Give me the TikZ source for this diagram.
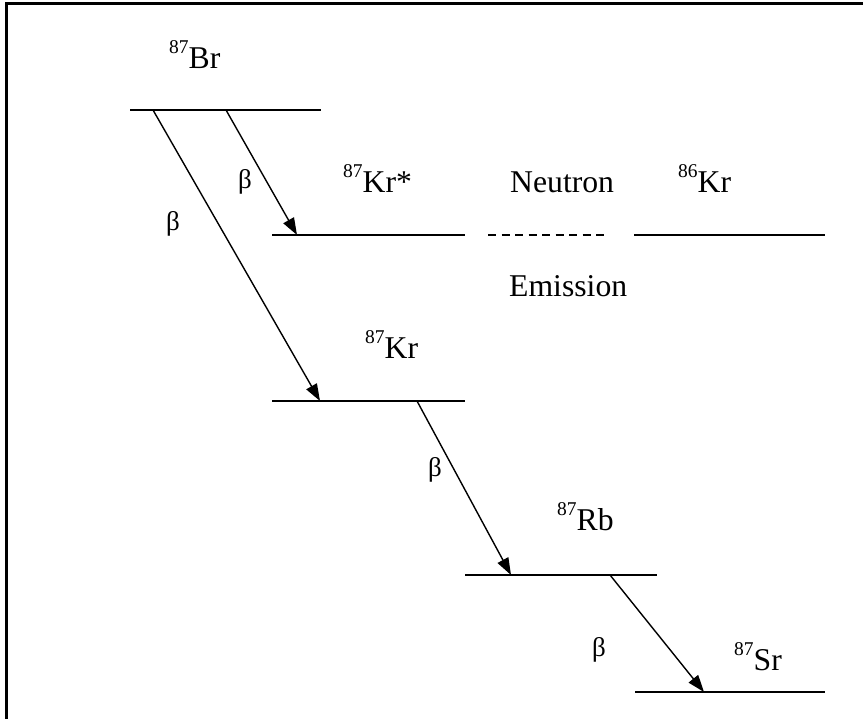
\documentclass[tikz,border=0pt]{standalone}
\usepackage{fontspec}
\setmainfont{Liberation Serif}
\usetikzlibrary{arrows.meta}
\newcommand{\isotope}[2]{\raisebox{15pt}{\fontsize{19.5}{20}\selectfont #1}#2}
\begin{document}
\begin{tikzpicture}[x=1pt,y=-1pt,
  level/.style={line width=1.8pt},
  decay/.style={line width=1.4pt,-{Triangle[length=17pt,width=12pt]}},
  lbl/.style={font=\fontsize{31.7}{36}\selectfont,inner sep=0pt,anchor=base west},
  betalbl/.style={font=\fontsize{27}{30}\selectfont,inner sep=0pt,anchor=center}]
\useasboundingbox (0,0) rectangle (863,719);
% frame (top and left)
\coordinate (fbl) at (6.5,719);
\coordinate (ftl) at (6.5,3.5);
\coordinate (ftr) at (863,3.5);
\draw[line width=2.2pt] (fbl) -- (ftl) -- (ftr);
% levels
\coordinate (brL) at (130,110); \coordinate (brR) at (321,110);
\coordinate (krsL) at (272,235); \coordinate (krsR) at (465,235);
\coordinate (dL) at (488,235); \coordinate (dR) at (608,235);
\coordinate (kr86L) at (634,235); \coordinate (kr86R) at (825,235);
\coordinate (krL) at (272,401); \coordinate (krR) at (465,401);
\coordinate (rbL) at (465,575); \coordinate (rbR) at (657,575);
\coordinate (srL) at (635,692); \coordinate (srR) at (825,692);
\draw[level] (brL) -- (brR);
\draw[level] (krsL) -- (krsR);
\draw[line width=1.4pt,dash pattern=on 8pt off 5.5pt] (dL) -- (dR);
\draw[level] (kr86L) -- (kr86R);
\draw[level] (krL) -- (krR);
\draw[level] (rbL) -- (rbR);
\draw[level] (srL) -- (srR);
% arrow endpoints
\coordinate (a1s) at (226,110); \coordinate (a1e) at (297,235);
\coordinate (a2s) at (153,110); \coordinate (a2e) at (320,401);
\coordinate (a3s) at (417,401); \coordinate (a3e) at (511,575);
\coordinate (a4s) at (610,575); \coordinate (a4e) at (704,692);
\draw[decay] (a1s) -- (a1e);
\draw[decay] (a2s) -- (a2e);
\draw[decay] (a3s) -- (a3e);
\draw[decay] (a4s) -- (a4e);
% labels
\node[lbl] (tbr) at (169,69) {\isotope{87}{Br}};
\node[lbl] (tkrs) at (343,193) {\isotope{87}{Kr*}};
\node[lbl] (tneu) at (510,193) {Neutron};
\node[lbl] (tkr86) at (678,193) {\isotope{86}{Kr}};
\node[lbl] (temi) at (509,297) {Emission};
\node[lbl] (tkr) at (365,359) {\isotope{87}{Kr}};
\node[lbl] (trb) at (557,530) {\isotope{87}{Rb}};
\node[lbl] (tsr) at (734,670) {\isotope{87}{Sr}};
\node[betalbl] (b1) at (245,182) {β};
\node[betalbl] (b2) at (173,224) {β};
\node[betalbl] (b3) at (435,470) {β};
\node[betalbl] (b4) at (599,650) {β};
\end{tikzpicture}
\end{document}
